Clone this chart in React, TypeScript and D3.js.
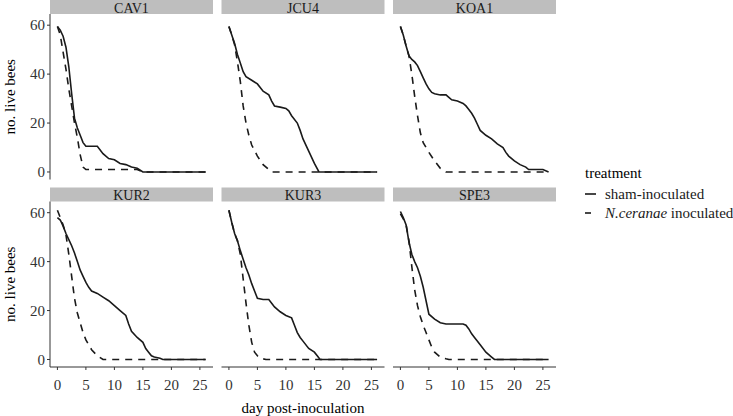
import React, {useEffect, useRef} from 'react';
import * as d3 from 'd3';

// colony names, in facet order
const sites = ['CAV1', 'JCU4', 'KOA1', 'KUR2', 'KUR3', 'SPE3'];
const treatments = ['sham-inoculated', 'N.ceranae inoculated'];
const xTicks = [0, 5, 10, 15, 20, 25];
const yTicks = [0, 20, 40, 60];

// [day, no. live bees]
const cav1Sham = [[0, 59.5], [0.5, 58], [1, 55.5], [1.5, 51], [2, 43], [2.5, 32], [3, 22], [3.5, 18], [4, 15], [4.5, 12], [5, 10.5], [6, 10.5], [7, 10.5], [8, 7.5], [9, 5.5], [10, 5], [11, 3.5], [12, 3], [13, 2], [14, 1.5], [15, 0], [26, 0]];
const cav1Cer = [[0, 59.5], [0.5, 56], [1, 49], [1.5, 42], [2, 34], [2.5, 27], [3, 20], [3.5, 14], [4, 7], [4.5, 2], [5, 1], [6, 1], [14, 1], [15, 0], [26, 0]];
const jcu4Sham = [[0, 59.5], [0.5, 56], [1, 52.5], [1.5, 48], [2, 44.5], [2.5, 41], [3, 39], [4, 37.5], [5, 36], [6, 33], [7, 31.5], [7.5, 29], [8, 27], [9, 26.5], [10, 26], [10.5, 25], [11, 23], [12, 20], [12.5, 17], [13, 13.5], [14, 8.5], [15, 3.5], [15.8, 0], [26, 0]];
const jcu4Cer = [[0, 59.5], [0.5, 56], [1, 52], [1.5, 45], [2, 37], [2.5, 27], [3, 20], [3.5, 15], [4, 11], [5, 6.5], [6, 3], [7, 1], [7.5, 0], [26, 0]];
const koa1Sham = [[0, 59.5], [0.5, 56], [1, 51.5], [1.5, 47.5], [2, 46], [2.5, 45], [3, 43.5], [3.5, 41], [4, 38.5], [4.5, 36], [5, 34], [5.5, 32.5], [6, 32], [7, 31.5], [8, 31.5], [8.5, 30.5], [9, 29.5], [10, 29], [10.5, 28.5], [11, 28], [11.5, 27], [12, 25.5], [12.5, 24], [13, 22], [13.5, 19.5], [14, 17], [15, 15], [16, 13.5], [17, 11.5], [18, 10], [18.5, 8], [19, 6.5], [20, 4.5], [21, 3], [22, 2], [22.5, 1], [24, 1], [25, 1], [26, 0]];
const koa1Cer = [[0, 59.5], [0.5, 56], [1, 51.5], [1.5, 47.5], [2, 40], [2.5, 31], [3, 23], [3.5, 16], [4, 12], [4.5, 10], [5, 8], [6, 4.5], [7, 1.5], [8, 0], [26, 0]];
const kur2Sham = [[0, 58], [0.5, 57], [1, 54.5], [1.5, 51.5], [2, 49], [2.5, 46.5], [3, 43.5], [3.5, 40], [4, 36.5], [4.5, 34], [5, 31.5], [5.5, 29.5], [6, 28], [7, 27], [8, 25.5], [9, 24], [10, 22], [11, 20], [12, 18], [12.5, 14.5], [13, 11.5], [14, 9], [15, 7], [15.5, 4.5], [16, 3], [16.5, 1.5], [17, 1], [18, 0.5], [18.5, 0], [26, 0]];
const kur2Cer = [[0, 61], [0.5, 58], [1, 55], [1.5, 51], [2, 43], [2.5, 34], [3, 25], [3.5, 19], [4, 15], [4.5, 11], [5, 8], [5.5, 6], [6, 4], [7, 1.5], [8, 0], [26, 0]];
const kur3Sham = [[0, 61], [0.5, 56], [1, 51.5], [1.5, 48.5], [2, 44.5], [2.5, 41], [3, 37.5], [3.5, 34.5], [4, 31], [4.5, 28], [5, 25], [6, 24.5], [7, 24.5], [7.5, 23], [8, 21.5], [9, 19.5], [10, 18], [11, 17], [11.5, 14], [12, 11], [12.5, 9], [13, 7.5], [14, 4.5], [15, 3], [15.5, 1.5], [16, 0], [26, 0]];
const kur3Cer = [[0, 61], [0.5, 56], [1, 51.5], [1.5, 48.5], [2, 43], [2.5, 33], [3, 23], [3.5, 14], [4, 7], [4.5, 3], [5, 1.5], [5.5, 0.5], [6.5, 0], [26, 0]];
const spe3Sham = [[0, 60.5], [0.5, 58], [1, 55], [1.5, 48], [2, 43], [2.5, 40], [3, 37.5], [3.5, 34], [4, 29.5], [4.5, 24], [5, 18.5], [6, 16.5], [7, 15], [8, 14.5], [9, 14.5], [10, 14.5], [11, 14.5], [11.5, 14], [12, 12.5], [12.5, 10.5], [13, 9], [14, 6], [15, 3], [15.5, 2], [16, 1], [16.5, 0], [26, 0]];
const spe3Cer = [[0, 59.5], [0.5, 57.5], [1, 55], [1.5, 48.5], [2, 38], [2.5, 28.5], [3, 22], [3.5, 17.5], [4, 14], [4.5, 11], [5, 8], [5.5, 5], [6, 3], [7, 1], [8, 0.3], [8.5, 0], [26, 0]];

const shamSeries = [cav1Sham, jcu4Sham, koa1Sham, kur2Sham, kur3Sham, spe3Sham];
const cerSeries = [cav1Cer, jcu4Cer, koa1Cer, kur2Cer, kur3Cer, spe3Cer];

const FONT = '"Liberation Serif", "Times New Roman", serif';

const App: React.FC = () => {
  const svgRef = useRef<SVGSVGElement>(null);

  useEffect(() => {
    const svg = d3.select(svgRef.current);
    svg.selectAll('*').remove();

    // facet geometry
    const panelX = [50, 221.5, 393];
    const panelW = 163;
    const stripY = [0, 187.5];
    const stripH = 14;
    const panelH = 165.5;
    const ink = '#1a1a1a';

    sites.forEach((site, i) => {
      const col = i % 3;
      const row = Math.floor(i / 3);
      const left = panelX[col];
      const top = stripY[row] + stripH;

      const x = d3.scaleLinear().domain([-1.3, 27.3]).range([left, left + panelW]);
      const y = d3.scaleLinear().domain([-3.075, 64.575]).range([top + panelH, top]);

      // strip
      svg
        .append('rect')
        .attr('x', left)
        .attr('y', stripY[row])
        .attr('width', panelW)
        .attr('height', stripH)
        .attr('fill', '#bebebe');
      svg
        .append('text')
        .attr('x', left + panelW / 2)
        .attr('y', stripY[row] + 12.5)
        .attr('text-anchor', 'middle')
        .attr('font-family', FONT)
        .attr('font-size', 14)
        .attr('fill', '#1a1a1a')
        .text(site);

      const line = d3
        .line<number[]>()
        .x((d) => x(d[0]))
        .y((d) => y(d[1]));

      // dashed under solid
      svg
        .append('path')
        .attr('d', line(cerSeries[i]))
        .attr('fill', 'none')
        .attr('stroke', ink)
        .attr('stroke-width', 1.6)
        .attr('stroke-dasharray', '7,6');
      svg
        .append('path')
        .attr('d', line(shamSeries[i]))
        .attr('fill', 'none')
        .attr('stroke', ink)
        .attr('stroke-width', 1.6);

      // y axis only in first column
      if (col === 0) {
        const g = svg.append('g');
        g.append('line')
          .attr('x1', left)
          .attr('x2', left)
          .attr('y1', top)
          .attr('y2', top + panelH)
          .attr('stroke', '#333')
          .attr('stroke-width', 1);
        yTicks.forEach((t) => {
          g.append('line')
            .attr('x1', left - 3)
            .attr('x2', left)
            .attr('y1', y(t))
            .attr('y2', y(t))
            .attr('stroke', '#333');
          g.append('text')
            .attr('x', left - 5)
            .attr('y', y(t))
            .attr('dy', '0.35em')
            .attr('text-anchor', 'end')
            .attr('font-family', FONT)
            .attr('font-size', 15)
            .attr('fill', '#333')
            .text(t);
        });
        svg
          .append('text')
          .attr('transform', `translate(15,${top + panelH / 2}) rotate(-90)`)
          .attr('text-anchor', 'middle')
          .attr('font-family', FONT)
          .attr('font-size', 15)
          .attr('fill', '#000')
          .text('no. live bees');
      }

      // x axis only in bottom row
      if (row === 1) {
        const g = svg.append('g');
        const base = top + panelH;
        g.append('line')
          .attr('x1', left)
          .attr('x2', left + panelW)
          .attr('y1', base)
          .attr('y2', base)
          .attr('stroke', '#333');
        xTicks.forEach((t) => {
          g.append('line')
            .attr('x1', x(t))
            .attr('x2', x(t))
            .attr('y1', base)
            .attr('y2', base + 3)
            .attr('stroke', '#333');
          g.append('text')
            .attr('x', x(t))
            .attr('y', base + 18)
            .attr('dy', '0.35em')
            .attr('text-anchor', 'middle')
            .attr('font-family', FONT)
            .attr('font-size', 15)
            .attr('fill', '#333')
            .text(t);
        });
      }
    });

    // x title
    svg
      .append('text')
      .attr('x', 303)
      .attr('y', 413)
      .attr('text-anchor', 'middle')
      .attr('font-family', FONT)
      .attr('font-size', 15)
      .attr('fill', '#000')
      .text('day post-inoculation');

    // legend
    const lg = svg.append('g').attr('font-family', FONT).attr('font-size', 15);
    lg.append('text').attr('x', 585).attr('y', 178).attr('fill', '#000').text('treatment');
    treatments.forEach((t, i) => {
      const cy = 194 + i * 19;
      lg.append('line')
        .attr('x1', 585)
        .attr('x2', i === 0 ? 596 : 591)
        .attr('y1', cy)
        .attr('y2', cy)
        .attr('stroke', ink)
        .attr('stroke-width', 1.6);
      const txt = lg.append('text').attr('x', 605).attr('y', cy).attr('dy', '0.35em').attr('fill', '#1a1a1a');
      if (i === 0) {
        txt.text(t);
      } else {
        txt.append('tspan').attr('font-style', 'italic').text('N.ceranae');
        txt.append('tspan').text(' inoculated');
      }
    });
  }, []);

  return (
    <svg
      ref={svgRef}
      width={733}
      height={416}
      style={{position: 'absolute', left: 0, top: 0, background: '#fff'}}
    />
  );
};

export default App;
